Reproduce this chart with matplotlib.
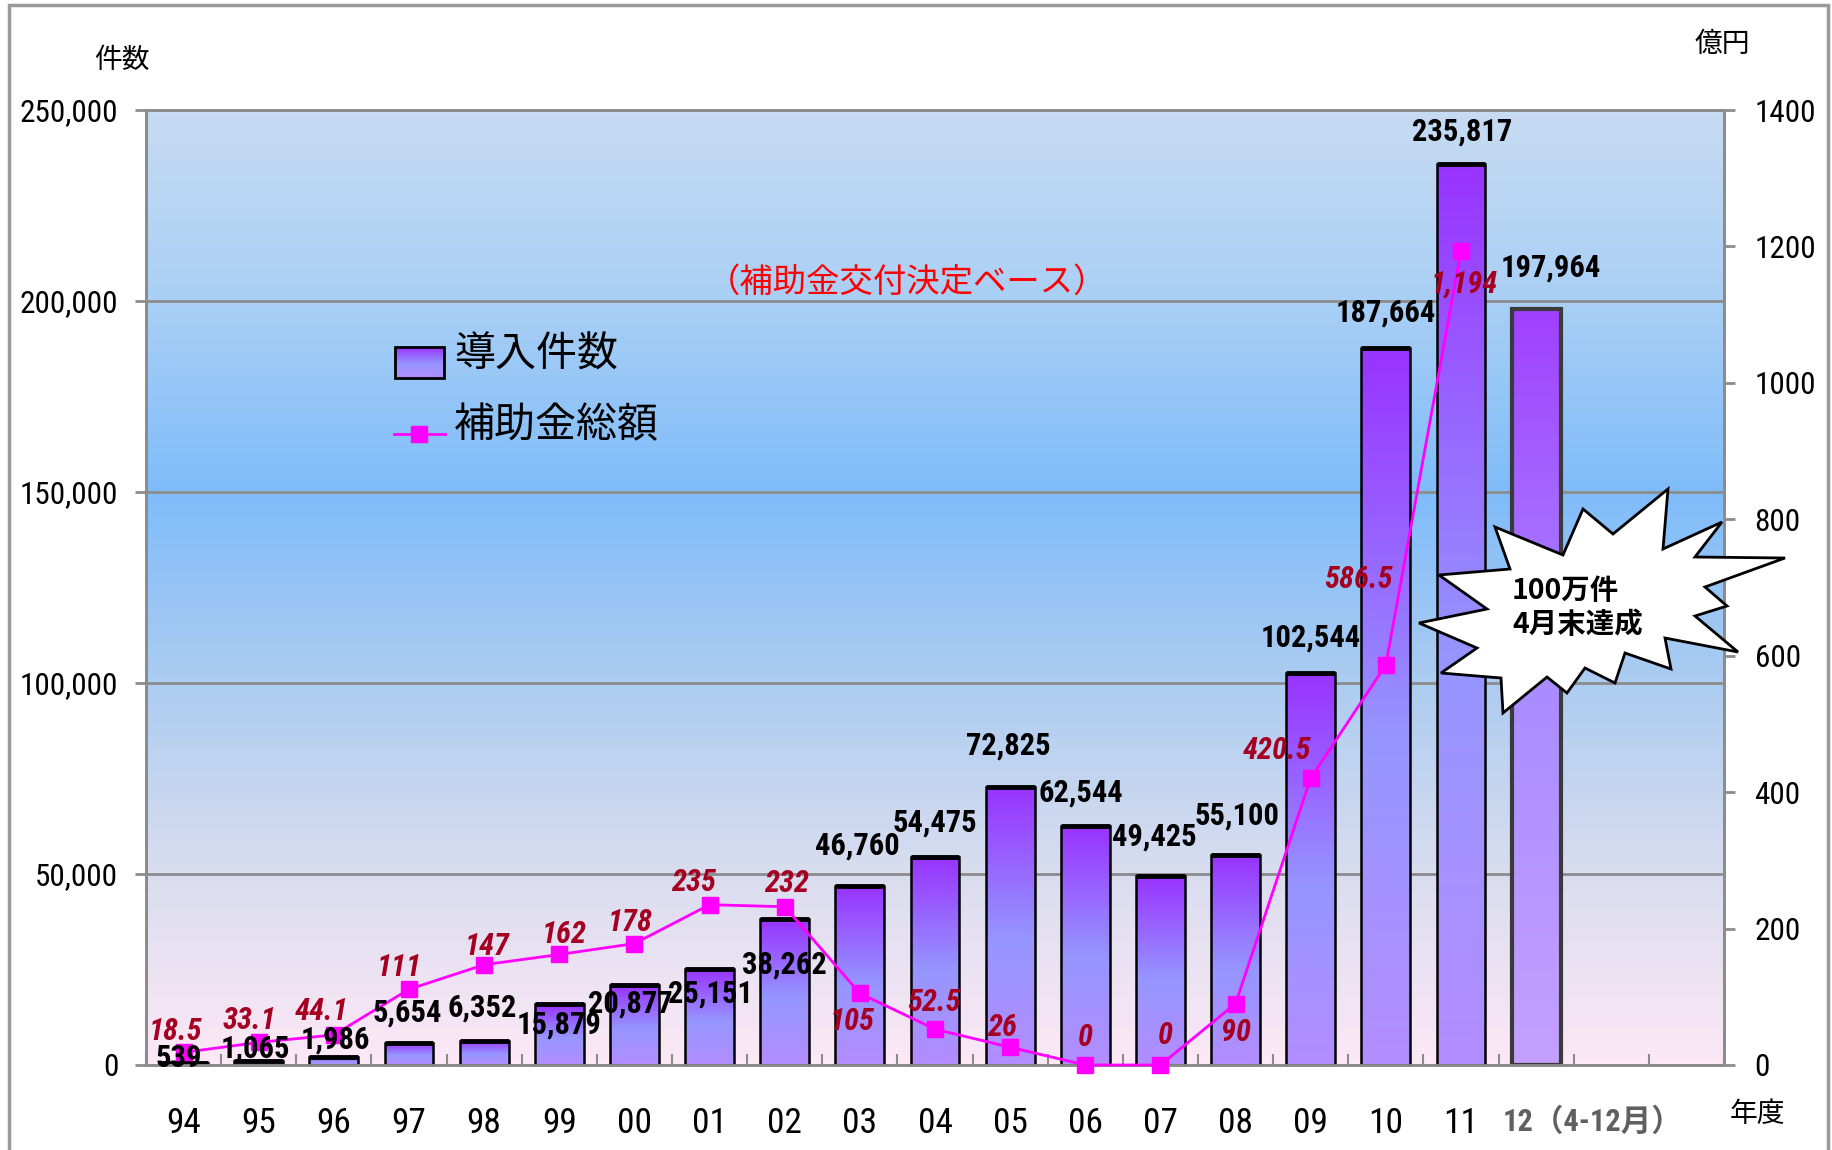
import numpy as np
import matplotlib
matplotlib.use('Agg')
import matplotlib.pyplot as plt
from matplotlib.colors import LinearSegmentedColormap
from matplotlib.patches import Rectangle, Polygon
from matplotlib.lines import Line2D

# ---------------------------------------------------------------
# data
# ---------------------------------------------------------------
years = ['94', '95', '96', '97', '98', '99', '00', '01', '02', '03',
         '04', '05', '06', '07', '08', '09', '10', '11', '12']
installs = [539, 1065, 1986, 5654, 6352, 15879, 20877, 25151, 38262, 46760,
            54475, 72825, 62544, 49425, 55100, 102544, 187664, 235817, 197964]
subsidy = [18.5, 33.1, 44.1, 111, 147, 162, 178, 235, 232, 105,
           52.5, 26, 0, 0, 90, 420.5, 586.5, 1194]
last_label = '12（4-12月）'

# label offsets in pixels (dx, dy) from bar top / marker
inst_off = [(-5, 5), (-3, 12), (2, 18), (-2, 31), (-2, 33), (0, -20), (-4, -18),
            (1, -25), (0, -46), (-2, 41), (0, 34), (-2, 41), (-4, 34), (-6, 40),
            (1, 39), (0, 36), (0, 36), (1, 33), (15, 41)]
sub_off = [(-8, 21), (-9, 22), (-12, 23), (-10, 22), (3, 18), (5, 20), (-4, 21),
           (-16, 22), (2, 23), (-8, -28), (-1, 27), (-8, 20), (0, 27), (5, 29),
           (0, -29), (-34, 28), (-27, 85), (3, -34)]

# starburst outline, figure pixels (x, y from top)
burst_px = [(1668, 489), (1663, 549), (1722, 522), (1695, 557), (1785, 558),
            (1705, 587), (1727, 606), (1695, 616), (1738, 652), (1665, 638),
            (1671, 669), (1625, 653), (1615, 683), (1585, 668), (1567, 693),
            (1547, 677), (1503, 713), (1501, 678), (1441, 673), (1477, 648),
            (1419, 623), (1487, 609), (1439, 575), (1510, 569), (1495, 527),
            (1563, 555), (1583, 509), (1613, 534)]

W, H = 1833, 1150
plt.rcParams['font.family'] = ['Roboto Condensed', 'Noto Sans CJK JP', 'DejaVu Sans']
JP = ['Noto Sans CJK JP', 'DejaVu Sans']

fig = plt.figure(figsize=(W / 100, H / 100), dpi=100)
ax = fig.add_axes([146 / W, 1 - 1065 / H, (1724 - 146) / W, 955 / H])

grad = np.linspace(0, 1, 256).reshape(-1, 1)

# background gradient
bg_cmap = LinearSegmentedColormap.from_list('bg', [
    (0.0, '#fde8f6'), (0.2, '#d9ddef'), (0.4, '#acccf1'),
    (0.6, '#7fbcfa'), (0.8, '#a9cff5'), (1.0, '#c7dbf2')])
ax.imshow(grad, cmap=bg_cmap, origin='lower', extent=[0, 1, 0, 1],
          transform=ax.transAxes, aspect='auto', zorder=-5)

bar_cmap = LinearSegmentedColormap.from_list('bar', [
    (0.0, '#b38dff'), (0.45, '#9696ff'), (1.0, '#9933ff')])
last_cmap = LinearSegmentedColormap.from_list('bar2', [
    (0.0, '#c4a0ff'), (0.5, '#a98cff'), (1.0, '#a040ff')])

bw = 0.65
for i, v in enumerate(installs):
    x0 = i - bw / 2
    last = (i == len(installs) - 1)
    ax.imshow(grad, cmap=last_cmap if last else bar_cmap, origin='lower',
              extent=[x0, x0 + bw, 0, v], aspect='auto', zorder=2)
    ax.add_patch(Rectangle((x0, 0), bw, v, facecolor='none',
                           edgecolor='#3a3a3a' if last else 'black',
                           lw=3 if last else 1.8, zorder=3))
    if not last:
        ax.plot([x0, x0 + bw], [v, v], color='black', lw=3.5, zorder=3,
                solid_capstyle='butt')

# legend (drawn by hand)
lx0, lx1, ly0, ly1 = 395 / W, 444 / W, 1 - 378 / H, 1 - 347 / H
ax.imshow(grad, cmap=bar_cmap, origin='lower', extent=[lx0, lx1, ly0, ly1],
          transform=fig.transFigure, aspect='auto', zorder=6)
fig.add_artist(Rectangle((lx0, ly0), lx1 - lx0, ly1 - ly0, transform=fig.transFigure,
                         facecolor='none', edgecolor='black', lw=2))
fig.add_artist(Line2D([394 / W, 445 / W], [1 - 434 / H] * 2, transform=fig.transFigure,
                      color='#ff00ff', lw=2))
fig.add_artist(Line2D([419.5 / W], [1 - 434 / H], transform=fig.transFigure,
                      marker='s', ms=12, color='#ff00ff'))
fig.text(454 / W, 1 - 355 / H, '導入件数', fontsize=29.5, family=JP, va='center')
fig.text(454 / W, 1 - 426 / H, '補助金総額', fontsize=29.5, family=JP, va='center')

ax.set_xlim(-0.5, 20.5)
ax.set_ylim(0, 250000)
ax.set_yticks(range(0, 250001, 50000))
ax.set_yticklabels([f'{t:,}' for t in range(0, 250001, 50000)])
ax.set_xticks(range(len(years) - 1))
ax.set_xticklabels(years[:-1])
ax.set_xticks(np.arange(-0.5, 21), minor=True)
ax.tick_params(axis='x', which='major', length=0, pad=30, labelsize=25.5)
ax.tick_params(axis='x', which='minor', direction='in', length=8, width=1.5, color='#8c8c8c')
ax.tick_params(axis='y', direction='out', length=8, width=2, color='#8c8c8c',
               pad=12, labelsize=22.5)
ax.yaxis.grid(True, color='#8c8c8c', lw=2)
ax.set_axisbelow(True)
for s in ax.spines.values():
    s.set_color('#8c8c8c')
    s.set_linewidth(2)

ax.annotate(last_label, xy=(17.55, 0), xycoords=('data', 'axes fraction'),
            xytext=(0, -30), textcoords='offset points', ha='left', va='top',
            fontsize=22, fontweight='bold', color='#606060')

# subsidy line on right axis
ax2 = ax.twinx()
ax2.set_ylim(0, 1400)
ax2.set_yticks(range(0, 1401, 200))
ax2.tick_params(axis='y', direction='out', length=8, width=2, color='#8c8c8c',
                pad=14, labelsize=22.5)
for s in ax2.spines.values():
    s.set_color('#8c8c8c')
    s.set_linewidth(2)
xs = np.arange(len(subsidy))
ax2.plot(xs, subsidy, color='#ff00ff', lw=2, marker='s', ms=12, zorder=5, clip_on=False)
for i, v in enumerate(subsidy):
    txt = f'{v:,.0f}' if float(v).is_integer() else f'{v:,.1f}'
    dx, dy = sub_off[i]
    ax2.annotate(txt, xy=(i, v), xytext=(dx, dy), textcoords='offset pixels',
                 ha='center', va='center', fontsize=22, fontweight='bold',
                 style='italic', color='#a50021', zorder=6)

# install counts drawn on top of the line, positioned in the bar axis
for i, v in enumerate(installs):
    dx, dy = inst_off[i]
    ax2.annotate(f'{v:,}', xy=(i, v), xycoords=ax.transData, xytext=(dx, dy),
                 textcoords='offset pixels', ha='center', va='center',
                 fontsize=22, fontweight='bold', zorder=7)

# axis captions and note
fig.text(122 / W, 1 - 60 / H, '件数', fontsize=20, family=JP, ha='center', va='center')
fig.text(1722 / W, 1 - 44 / H, '億円', fontsize=20, family=JP, ha='center', va='center')
fig.text(1757 / W, 1 - 1114 / H, '年度', fontsize=20, family=JP, ha='center', va='center')
fig.text(907 / W, 1 - 282 / H, '（補助金交付決定ベース）', fontsize=24, family=JP,
         color='#ff0000', ha='center', va='center')

# starburst callout
bp = np.array(burst_px, dtype=float)
fig.add_artist(Polygon(np.column_stack([bp[:, 0] / W, 1 - bp[:, 1] / H]),
                       transform=fig.transFigure, facecolor='white',
                       edgecolor='black', lw=2, zorder=10))
fig.text(1512 / W, 1 - 608 / H, '100万件\n4月末達成', fontsize=20.5, family=JP,
         fontweight='bold', ha='left', va='center', linespacing=1.25, zorder=11)

# outer frame
fig.add_artist(Rectangle((9 / W, -0.1), (1828 - 9) / W, 1.1 - 5 / H,
                         transform=fig.transFigure, fill=False,
                         edgecolor='#9a9a9a', lw=2.5))

fig.savefig('out.png', dpi=100)
